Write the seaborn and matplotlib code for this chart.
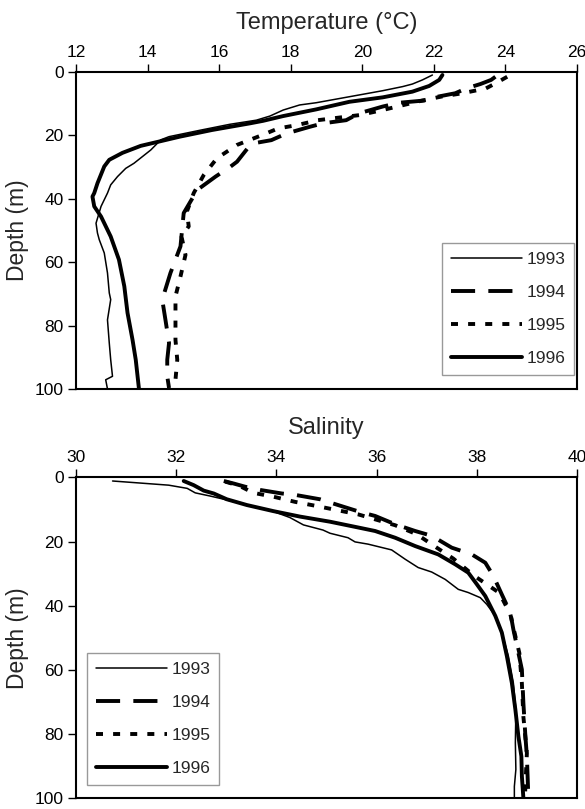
import pandas as pd
import matplotlib
matplotlib.use("Agg")
import matplotlib.pyplot as plt
import seaborn as sns

# ---------------------------
# Data (depth in m)
# ---------------------------

temp_1993_d = [0.95, 2.5, 3.8, 4.6, 5.9, 7.8, 9.7, 10.4, 12.0, 13.9, 15.2, 16.5, 18.3, 20.4, 21.4, 24.6,
               28.8, 30.4, 33, 35.6, 38.2, 42.4, 47.7, 50.8, 52.9, 57.1, 63.4, 69.7, 71.8, 78.2, 85.5,
               90.8, 96, 97.1, 100]
temp_1993 = [21.96, 21.68, 21.4, 21.13, 20.57, 19.64, 18.71, 18.25, 17.79, 17.42, 17.04, 16.3, 15.5, 14.6, 14.37, 14.09,
             13.62, 13.39, 13.16, 12.97, 12.88, 12.7, 12.56, 12.6, 12.65, 12.79, 12.88, 12.93, 12.97, 12.88, 12.93,
             12.97, 13.02, 12.83, 12.88]

temp_1994_d = [1.5, 2.5, 3.8, 5.2, 6.7, 7.8, 9.0, 9.7, 10.9, 13.0, 15.2, 16.2, 17.3, 19.4, 21.5, 22.5,
               24, 28.3, 30, 33, 37.2, 44.5, 55, 63.4, 71.8, 78.2, 85.5, 90.8, 96, 99.7]
temp_1994 = [23.72, 23.6, 23.3, 22.9, 22.6, 22.1, 21.73, 21.03, 20.57, 19.92, 19.55, 18.9, 18.53, 17.88, 17.46, 16.96,
             16.8, 16.5, 16.3, 15.9, 15.39, 15.01, 14.92, 14.64, 14.41, 14.5, 14.6, 14.55, 14.55, 14.6]

temp_1995_d = [1.5, 3.6, 5.2, 6.7, 7.8, 9.0, 12.0, 13.6, 15.2, 16.7, 17.8, 19.9, 23, 27.2, 32.5, 38.2,
               44, 48.7, 52, 57.7, 64.5, 70.8, 77.6, 84.5, 90.8, 97.1, 99.7]
temp_1995 = [24.05, 23.72, 23.45, 22.8, 22.19, 21.68, 20.57, 19.92, 18.76, 18.2, 17.65, 17.2, 16.5, 15.94, 15.57, 15.29,
             15.1, 15.15, 14.95, 15.06, 14.92, 14.78, 14.78, 14.78, 14.83, 14.78, 14.75]

temp_1996_d = [0.95, 2.5, 4.4, 6.2, 8.0, 9.4, 11.8, 13.9, 15.4, 16.2, 18.3, 20.4, 22.0, 23.3, 25.5, 27.7,
               29.8, 35.1, 38.2, 39.3, 42.4, 45.6, 51.9, 59.2, 67.6, 76, 84.5, 90.8, 100]
temp_1996 = [22.24, 22.15, 21.87, 21.4, 20.57, 19.64, 18.71, 17.79, 17.23, 16.86, 15.8, 14.9, 14.3, 13.81, 13.3, 12.93,
             12.79, 12.6, 12.51, 12.46, 12.51, 12.7, 12.97, 13.2, 13.35, 13.44, 13.58, 13.67, 13.76]

sal_1993_d = [1.1, 2.4, 3.4, 4.8, 5.8, 7, 8.6, 10.2, 12.5, 14.8, 16.4, 17.4, 18.8, 20.1, 20.8, 22.6,
              25.5, 28.1, 29.5, 31.8, 34.9, 35.9, 37.5, 39.6, 43.2, 48.4, 55.7, 64.1, 72.4, 82.8, 91.1,
              96.4, 100]
sal_1993 = [30.73, 31.85, 32.22, 32.38, 32.68, 33.01, 33.41, 33.87, 34.27, 34.54, 34.93, 35.07, 35.43, 35.57, 35.83, 36.3,
            36.57, 36.83, 37.1, 37.37, 37.63, 37.83, 38.07, 38.2, 38.37, 38.5, 38.63, 38.73, 38.78, 38.77, 38.78,
            38.75, 38.75]

sal_1994_d = [1.1, 1.9, 2.9, 3.9, 5, 5.5, 6.8, 8.3, 10.9, 12, 14.6, 16.7, 18.2, 21.9, 24, 26.6,
              30.7, 36.5, 42.2, 47.4, 54.7, 59.9, 70.3, 80.7, 87, 100]
sal_1994 = [32.95, 33.15, 33.38, 33.68, 34.11, 34.4, 34.87, 35.17, 35.7, 35.97, 36.37, 36.77, 37.1, 37.5, 37.9, 38.17,
            38.33, 38.5, 38.67, 38.73, 38.83, 38.9, 38.93, 38.97, 39.0, 39.03]

sal_1995_d = [1.3, 2.6, 4.8, 6, 7.6, 8.9, 11.5, 14.9, 17.7, 21.9, 25.3, 30.7, 36, 42.7, 47.5, 54.8,
              64.2, 74.6, 86, 100]
sal_1995 = [32.98, 33.26, 33.54, 33.94, 34.37, 34.8, 35.63, 36.37, 36.8, 37.2, 37.53, 37.95, 38.45, 38.67, 38.74, 38.85,
            38.9, 38.93, 39.0, 38.96]

sal_1996_d = [1.1, 2.4, 4.1, 5, 6.8, 8.6, 10.5, 12.2, 13.8, 15.5, 16.7, 18.8, 21.4, 24, 27.1, 29.7,
              33.3, 37, 43.2, 48.4, 55.7, 64.1, 72.4, 80.7, 87, 93.2, 100]
sal_1996 = [32.15, 32.35, 32.55, 32.75, 33.01, 33.41, 33.94, 34.47, 35.07, 35.6, 35.97, 36.37, 36.77, 37.23, 37.57, 37.83,
            38.0, 38.17, 38.37, 38.5, 38.6, 38.7, 38.77, 38.83, 38.89, 38.9, 38.93]

years = ["1993", "1994", "1995", "1996"]

# ---------------------------
# Styles
# ---------------------------

sns.set_style("white")
plt.rcParams['font.family'] = ['Liberation Sans', 'DejaVu Sans']

line_kw = {
    "1993": dict(linewidth=1.1, linestyle="-"),
    "1994": dict(linewidth=2.8, linestyle=(0, (6.2, 3.4))),
    "1995": dict(linewidth=2.8, linestyle=(0, (1.8, 2.6))),
    "1996": dict(linewidth=2.8, linestyle="-"),
}


def draw_panel(ax, series, xlim, xticks, title, legend_loc, legend_anchor):
    for yr, (vals, depth) in zip(years, series):
        df = pd.DataFrame({"value": vals, "depth": depth})
        sns.lineplot(data=df, x="value", y="depth", sort=False, estimator=None,
                     color="black", ax=ax, label=yr, **line_kw[yr])
    ax.set_xlim(*xlim)
    ax.set_ylim(100, 0)
    ax.set_xticks(xticks)
    ax.set_yticks([0, 20, 40, 60, 80, 100])
    ax.xaxis.tick_top()
    ax.xaxis.set_label_position("top")
    ax.tick_params(axis="both", which="both", direction="out", length=5.5, width=1,
                   labelsize=12.5, top=True, labeltop=True, bottom=False, labelbottom=False,
                   left=True, pad=3.3, colors="black")
    ax.set_xlabel(title, fontsize=17, labelpad=11.5)
    ax.set_ylabel("Depth (m)", fontsize=16.5, labelpad=4)
    for s in ax.spines.values():
        s.set_color("black")
        s.set_linewidth(1.5)
    leg = ax.legend(loc=legend_loc, bbox_to_anchor=legend_anchor, handlelength=4.1,
                    fontsize=12.5, frameon=True, fancybox=False, edgecolor="#808080",
                    borderpad=0.5, labelspacing=1.03, handletextpad=0.25, borderaxespad=0)
    leg.get_frame().set_linewidth(1.0)


fig = plt.figure(figsize=(5.85, 8.09), dpi=100)
ax1 = fig.add_axes([0.1299, 0.5192, 0.8564, 0.3918])
ax2 = fig.add_axes([0.1299, 0.0136, 0.8564, 0.3962])

draw_panel(ax1,
           [(temp_1993, temp_1993_d), (temp_1994, temp_1994_d),
            (temp_1995, temp_1995_d), (temp_1996, temp_1996_d)],
           (12, 26), [12, 14, 16, 18, 20, 22, 24, 26], "Temperature (°C)",
           "lower right", (0.994, 0.044))

draw_panel(ax2,
           [(sal_1993, sal_1993_d), (sal_1994, sal_1994_d),
            (sal_1995, sal_1995_d), (sal_1996, sal_1996_d)],
           (30, 40), [30, 32, 34, 36, 38, 40], "Salinity",
           "lower left", (0.022, 0.041))

fig.savefig("out.png", dpi=100)
